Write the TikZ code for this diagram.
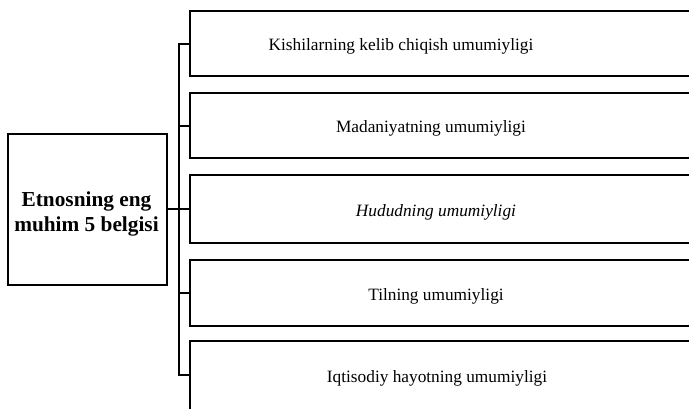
\documentclass[tikz,border=0pt]{standalone}
\usepackage{fontspec}
\setmainfont{Liberation Serif}
\begin{document}
\begin{tikzpicture}[x=1pt,y=-1pt,
  box/.style={draw,line width=2pt,rectangle,inner sep=0pt,minimum width=505pt},
  txt/.style={inner sep=0pt,font=\fontsize{17.3}{20}\selectfont},
  conn/.style={line width=2pt}]
\useasboundingbox (0,0) rectangle (689,408);
\clip (0,0) rectangle (689,408);
\node[draw,line width=2pt,rectangle,inner sep=0pt,minimum width=159pt,minimum height=151pt] (L) at (87.5,209) {};
\node[inner sep=0pt,align=center,font=\bfseries\fontsize{21.3}{25}\selectfont] (Lt) at (86.5,214) {Etnosning eng\\muhim 5 belgisi};
\node[box,minimum height=65pt] (b1) at (442.5,43.5) {};
\node[box,minimum height=65pt] (b2) at (442.5,125.5) {};
\node[box,minimum height=68pt] (b3) at (442.5,209) {};
\node[box,minimum height=66pt] (b4) at (442.5,293) {};
\node[box,minimum height=72pt] (b5) at (442.5,377) {};
\node[txt] (t1) at (401,46) {Kishilarning kelib chiqish umumiyligi};
\node[txt] (t2) at (431,128) {Madaniyatning umumiyligi};
\node[txt,font=\itshape\fontsize{17.3}{20}\selectfont] (t3) at (436,212) {Hududning umumiyligi};
\node[txt] (t4) at (436,296) {Tilning umumiyligi};
\node[txt] (t5) at (437,378) {Iqtisodiy hayotning umumiyligi};
\coordinate (top) at (179,43.5);
\coordinate (bot) at (179,375);
\draw[conn,line join=miter] (b1.west) -- (top) -- (bot) -- (bot -| b5.west);
\draw[conn] (b2.west) -- (b2.west -| top);
\draw[conn] (L.east) -- (L.east -| b3.west);
\draw[conn] (b4.west) -- (b4.west -| top);
\end{tikzpicture}
\end{document}
